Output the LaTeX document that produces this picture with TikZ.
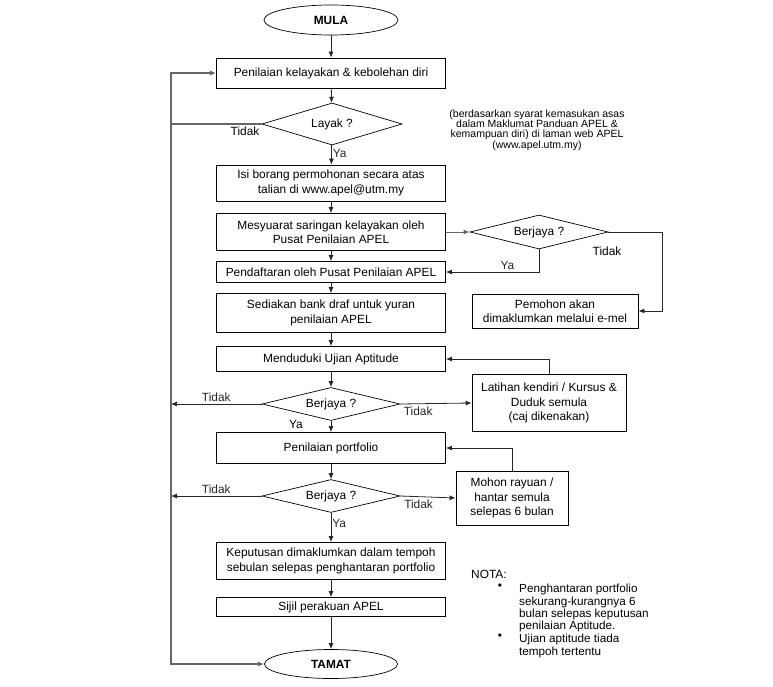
\documentclass[tikz,border=0pt]{standalone}
\usepackage{fontspec}
\setmainfont{Liberation Sans}
\usetikzlibrary{shapes.geometric, arrows.meta, positioning}

\begin{document}
\begin{tikzpicture}[x=1pt, y=-1pt,
		font=\fontsize{11.9}{14.5}\selectfont,
		kasten/.style={draw, line width=0.8pt, align=center, inner sep=2pt},
		haupt/.style={kasten, minimum width=229},
		raute/.style={draw, diamond, aspect=4, line width=0.7pt, minimum width=138, minimum height=34, inner sep=0pt},
		oval/.style={draw, ellipse, line width=0.7pt, minimum width=134, minimum height=30, inner sep=0pt},
		pfeil/.style={-{Latex[length=6pt,width=5pt]}, line width=0.8pt, black!85},
		grau/.style={pfeil, gray!80!black, line width=1.2pt}]
	\useasboundingbox (0,0) rectangle (773,687);
	
	% Hauptkette
	\node[oval] (mula) at (331,20) {\textbf{MULA}};
	\node[haupt, minimum height=30] (kelayakan) at (331,73) {Penilaian kelayakan \& kebolehan diri};
	\node[raute, aspect=3.3, minimum width=140, minimum height=42] (layak) at (332,124) {Layak ?};
	\node[haupt, minimum height=36] (borang) at (331,183) {Isi borang permohonan secara atas\\talian di www.apel@utm.my};
	\node[haupt, minimum height=37] (saringan) at (331,232) {Mesyuarat saringan kelayakan oleh\\Pusat Penilaian APEL};
	\node[haupt, minimum height=21] (daftar) at (331,272) {Pendaftaran oleh Pusat Penilaian APEL};
	\node[haupt, minimum height=39] (draf) at (331,313) {Sediakan bank draf untuk yuran\\penilaian APEL};
	\node[haupt, minimum height=25] (ujian) at (331,359) {Menduduki Ujian Aptitude};
	\node[raute, minimum height=33] (berjaya2) at (331,404) {Berjaya ?};
	\node[haupt, minimum height=31] (portfolio) at (331,448) {Penilaian portfolio};
	\node[raute, minimum height=33] (berjaya3) at (331,496) {Berjaya ?};
	\node[haupt, minimum height=37] (keputusan) at (331,561) {Keputusan dimaklumkan dalam tempoh\\sebulan selepas penghantaran portfolio};
	\node[haupt, minimum height=19] (sijil) at (331,607) {Sijil perakuan APEL};
	\node[oval, minimum width=133, minimum height=29] (tamat) at (331,664) {\textbf{TAMAT}};
	
	% Nebenzweige
	\node[raute] (berjaya1) at (539,232) {Berjaya ?};
	\node[kasten, minimum width=166, minimum height=34] (emel) at (555,311) {Pemohon akan\\dimaklumkan melalui e-mel};
	\node[kasten, minimum width=154, minimum height=57] (latihan) at (549,403) {Latihan kendiri / Kursus \&\\Duduk semula\\(caj dikenakan)};
	\node[kasten, minimum width=112, minimum height=54] (rayuan) at (512,498) {Mohon rayuan /\\hantar semula\\selepas 6 bulan};
	
	% Hinweise
	\node[align=center, font=\fontsize{10.5}{10.4}\selectfont] (syarat) at (537,130) {(berdasarkan syarat kemasukan asas\\dalam Maklumat Panduan APEL \&\\kemampuan diri) di laman web APEL\\(www.apel.utm.my)};
	\node[anchor=north west, inner sep=0pt] (nota) at (471,570) {NOTA:};
	\node[anchor=north west, align=left, inner sep=0pt, font=\fontsize{11.7}{12.4}\selectfont] (nota1) at (519,584) {Penghantaran portfolio\\sekurang-kurangnya 6\\bulan selepas keputusan\\penilaian Aptitude.};
	\node[anchor=north west, align=left, inner sep=0pt, font=\fontsize{11.7}{12.4}\selectfont] (nota2) at (519,634) {Ujian aptitude tiada\\tempoh tertentu};
	\node[anchor=north, inner sep=0pt] (punkt1) at (500,584) {\textbullet};
	\node[anchor=north, inner sep=0pt] (punkt2) at (500,634) {\textbullet};
	
	% Hilfspunkte
	\coordinate (kiri) at (171,124);
	\coordinate (kanan) at (662,232);
	
	% Pfeile
	\draw[pfeil] (mula) -- (kelayakan);
	\draw[pfeil] (kelayakan) -- (layak);
	\draw[pfeil] (layak) -- node[right, pos=0.45, inner sep=1pt] {Ya} (borang);
	\draw[pfeil] (borang) -- (saringan);
	\draw[pfeil] (saringan) -- (daftar);
	\draw[pfeil] (daftar) -- (draf);
	\draw[pfeil] (draf) -- (ujian);
	\draw[pfeil] (ujian) -- (berjaya2);
	\draw[pfeil] (berjaya2) -- (portfolio);
	\draw[pfeil] (portfolio) -- (berjaya3);
	\draw[pfeil] (berjaya3) -- node[right, pos=0.35, inner sep=1pt] {Ya} (keputusan);
	\draw[pfeil] (keputusan) -- (sijil);
	\draw[pfeil] (sijil) -- (tamat);
	\node (ya2) at (296,424) {Ya};
	
	% Rueckfuehrung links
	\draw[grau] (layak.west) -- (kiri) |- (kelayakan.west);
	\draw[grau] (kiri) -- (kiri |- tamat) -- (tamat.west);
	\node (tidak0) at (245,131) {Tidak};
	\draw[pfeil] (berjaya2.west) -- node[above, inner sep=2pt] {Tidak} (berjaya2.west -| kiri);
	\draw[pfeil] (berjaya3.west) -- node[above, inner sep=2pt] {Tidak} (berjaya3.west -| kiri);
	
	% Zweige rechts
	\draw[grau, line width=1pt] (saringan.east) -- (berjaya1.west);
	\draw[pfeil] (berjaya1.south) |- node[above, pos=0.67, inner sep=2pt] {Ya} (daftar.east);
	\draw[pfeil] (berjaya1.east) -- (kanan) |- (emel.east);
	\node (tidak1) at (607,251) {Tidak};
	\draw[pfeil] (berjaya2.east) -- node[below, pos=0.25, inner sep=3pt] {Tidak} (latihan.west);
	\draw[pfeil] (latihan.north) |- (ujian.east);
	\draw[pfeil] (berjaya3.east) -- node[below, pos=0.33, inner sep=3pt] {Tidak} (rayuan.west);
	\draw[pfeil] (rayuan.north) |- (portfolio.east);
\end{tikzpicture}
\end{document}
